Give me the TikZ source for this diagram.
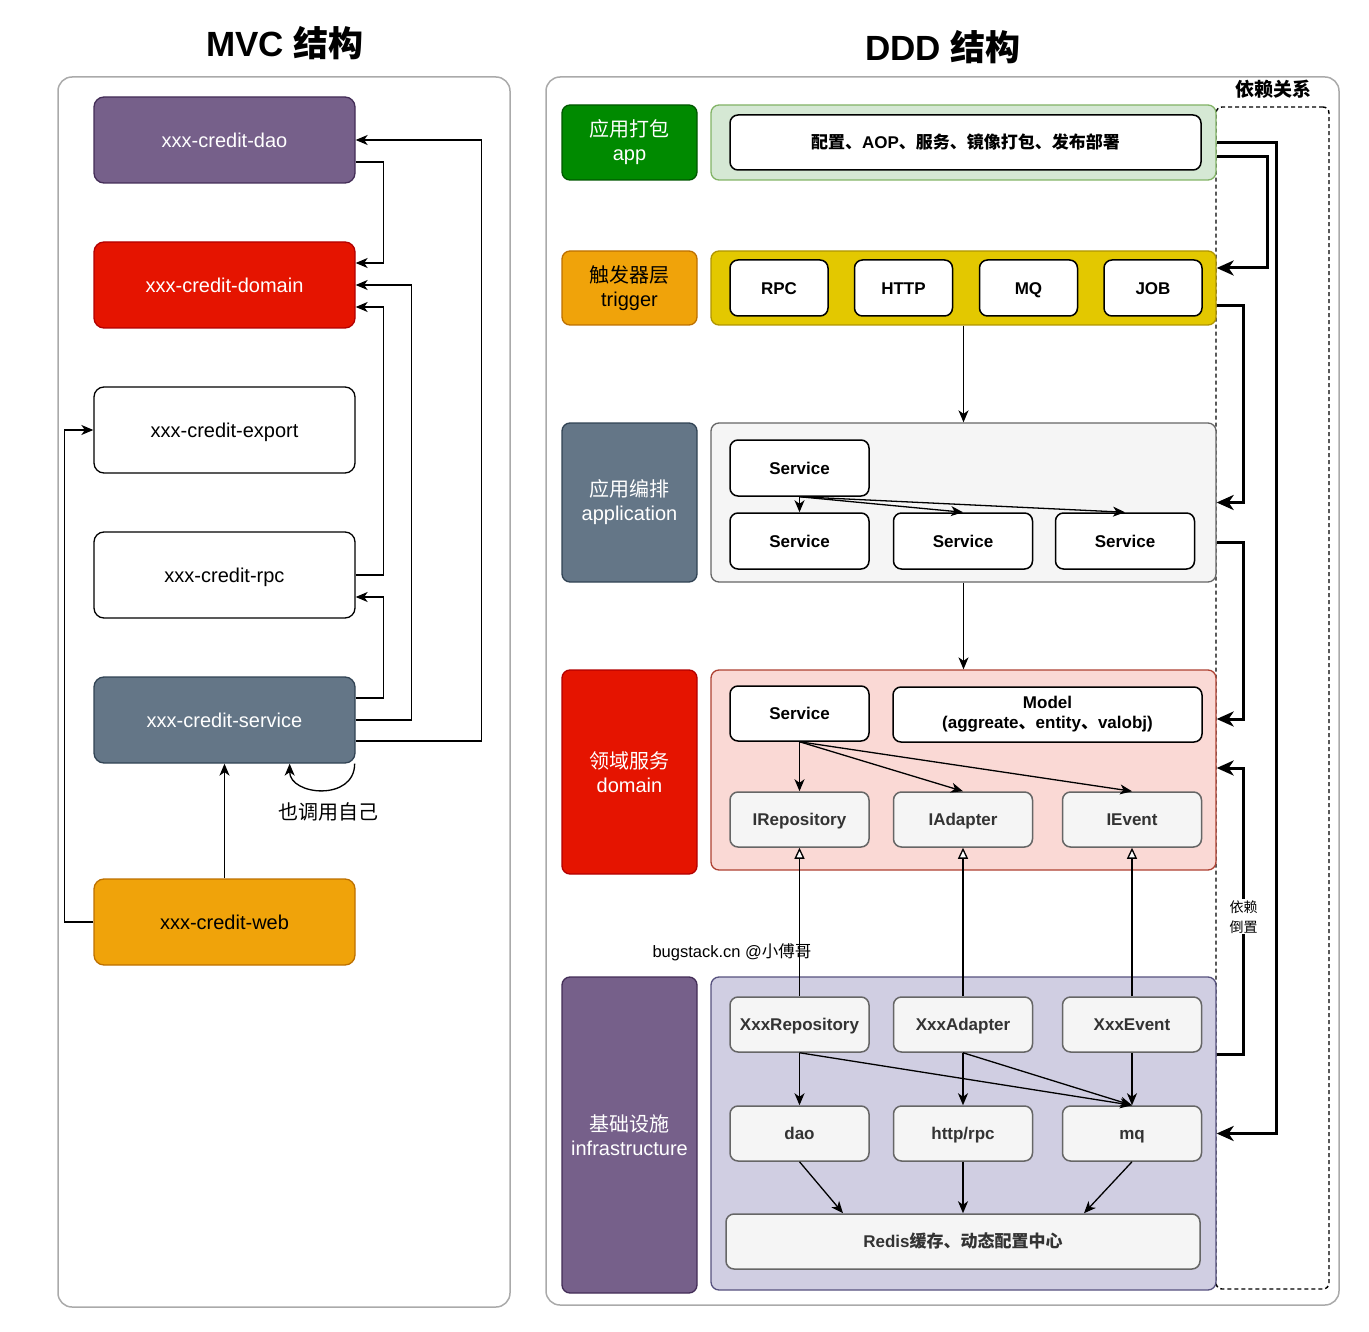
\documentclass[tikz,border=0pt]{standalone}
\usepackage{fontspec}
\setmainfont{Liberation Sans}
\newfontfamily\cjk{Noto Sans CJK SC}
\usetikzlibrary{arrows.meta}

\definecolor{framegray}{HTML}{AAAAAA}
\definecolor{purplefill}{HTML}{76608A}\definecolor{purpleline}{HTML}{432D57}
\definecolor{redfill}{HTML}{E51400}\definecolor{redline}{HTML}{B20000}
\definecolor{slatefill}{HTML}{647687}\definecolor{slateline}{HTML}{314354}
\definecolor{orangefill}{HTML}{F0A30A}\definecolor{orangeline}{HTML}{BD7000}
\definecolor{greenfill}{HTML}{008A00}\definecolor{greenline}{HTML}{005700}
\definecolor{mintfill}{HTML}{D5E8D4}\definecolor{mintline}{HTML}{82B366}
\definecolor{yellowfill}{HTML}{E3C800}\definecolor{yellowline}{HTML}{B09500}
\definecolor{grayfill}{HTML}{F5F5F5}\definecolor{grayline}{HTML}{666666}\definecolor{graytext}{HTML}{333333}
\definecolor{pinkfill}{HTML}{FAD9D5}\definecolor{pinkline}{HTML}{AE4132}
\definecolor{lilacfill}{HTML}{D0CEE2}\definecolor{lilacline}{HTML}{56517E}

\tikzset{
  box/.style={draw, rounded corners=8, inner sep=0, align=center},
  mvcbox/.style={box, rounded corners=10, minimum width=261, minimum height=86, text height=19.3, text depth=5, font=\fontsize{20}{24}\selectfont},
  layer/.style={box, minimum width=135, font=\fontsize{20}{24}\selectfont},
  zone/.style={box, minimum width=505},
  item/.style={box, fill=white, minimum width=139, minimum height=55, line width=1.5, text height=16.2, text depth=4, font=\bfseries\fontsize{17}{20}\selectfont},
  grayitem/.style={item, fill=grayfill, draw=grayline, text=graytext},
  frame/.style={draw=framegray, rounded corners=14, line width=1.5, inner sep=0},
  title/.style={font=\bfseries\fontsize{35}{40}\selectfont},
  dep/.style={->, line width=3, >={Stealth[length=17pt,width=15pt,inset=5pt]}},
  impl/.style={-{Triangle[fill=white,length=11pt,width=10pt]}}
}

\begin{document}
\begin{tikzpicture}[x=1pt,y=-1pt,line width=1.3,>={Stealth[length=12pt,width=10pt,inset=3.5pt]}]
  \useasboundingbox (0,0) rectangle (1369,1332);

  \node[title] (mvctitle) at (285,43) {MVC {\cjk 结构}};
  \node[title] (dddtitle) at (943,47) {DDD {\cjk 结构}};

  \node[frame, minimum width=452, minimum height=1230] (mvcframe) at (284,692) {};
  \node[frame, minimum width=793, minimum height=1228] (dddframe) at (942.5,691) {};

  % MVC
  \node[mvcbox, fill=purplefill, draw=purpleline, text=white] (dao) at (224.5,140) {xxx-credit-dao};
  \node[mvcbox, fill=redfill, draw=redline, text=white] (domain) at (224.5,285) {xxx-credit-domain};
  \node[mvcbox] (export) at (224.5,430) {xxx-credit-export};
  \node[mvcbox] (rpc) at (224.5,575) {xxx-credit-rpc};
  \node[mvcbox, fill=slatefill, draw=slateline, text=white] (service) at (224.5,720) {xxx-credit-service};
  \node[mvcbox, fill=orangefill, draw=orangeline] (web) at (224.5,922) {xxx-credit-web};

  \draw[->] ([yshift=-22]dao.east) -- ++(28,0) |- ([yshift=22]domain.east);
  \draw[->] ([yshift=-21]service.east) -- ++(126,0) |- (dao.east);
  \draw[->] (service.east) -- ++(56,0) |- (domain.east);
  \draw[->] (rpc.east) -- ++(28,0) |- ([yshift=-22]domain.east);
  \draw[->] ([yshift=22]service.east) -- ++(28,0) |- ([yshift=-22]rpc.east);
  \draw[->] (web.north) -- (service.south);
  \draw[->] (web.west) -- ++(-29,0) |- (export.west);
  \draw[->] ([xshift=-1]service.south east) .. controls +(0,38) and +(0,32) .. ([xshift=-66]service.south east);
  \node[font=\cjk\fontsize{20}{24}\selectfont] (selfcall) at (328,812) {也调用自己};

  % DDD
  \node[draw, dash pattern=on 4pt off 3pt, rounded corners=6, line width=1.4, minimum width=113, minimum height=1182, inner sep=0] (deps) at (1272.5,698) {};
  \node[font=\bfseries\cjk\fontsize{19}{22}\selectfont] (depstitle) at (1273,89) {依赖关系};

  \node[layer, fill=greenfill, draw=greenline, text=white, minimum height=75] (applayer) at (629.5,142.5) {{\cjk 应用打包}\\app};
  \node[layer, fill=orangefill, draw=orangeline, minimum height=74] (triglayer) at (629.5,288) {{\cjk 触发器层}\\trigger};
  \node[layer, fill=slatefill, draw=slateline, text=white, minimum height=159] (appslayer) at (629.5,502.5) {{\cjk 应用编排}\\application};
  \node[layer, fill=redfill, draw=redline, text=white, minimum height=204] (domlayer) at (629.5,772) {{\cjk 领域服务}\\domain};
  \node[layer, fill=purplefill, draw=purpleline, text=white, minimum height=316] (infralayer) at (629.5,1135) {{\cjk 基础设施}\\infrastructure};

  \node[zone, fill=mintfill, draw=mintline, minimum height=75] (appzone) at (963.5,142.5) {};
  \node[zone, fill=yellowfill, draw=yellowline, minimum height=74] (trigzone) at (963.5,288) {};
  \node[zone, fill=grayfill, draw=grayline, minimum height=159] (appszone) at (963.5,502.5) {};
  \node[zone, fill=pinkfill, draw=pinkline, minimum height=200] (domzone) at (963.5,770) {};
  \node[zone, fill=lilacfill, draw=lilacline, minimum height=313] (infrazone) at (963.5,1133.5) {};

  \node[item, minimum width=471] (pack) at (965.5,142.5) {{\cjk 配置、}AOP{\cjk 、服务、镜像打包、发布部署}};

  \node[item, minimum width=98, minimum height=56] (trpc) at (779,288) {RPC};
  \node[item, minimum width=98, minimum height=56] (thttp) at (903.5,288) {HTTP};
  \node[item, minimum width=98, minimum height=56] (tmq) at (1028.5,288) {MQ};
  \node[item, minimum width=98, minimum height=56] (tjob) at (1153,288) {JOB};

  \node[item, minimum height=56] (asvc) at (799.5,468) {Service};
  \node[item, minimum height=56] (asvc1) at (799.5,541) {Service};
  \node[item, minimum height=56] (asvc2) at (963,541) {Service};
  \node[item, minimum height=56] (asvc3) at (1125,541) {Service};

  \node[item] (dsvc) at (799.5,713.5) {Service};
  \node[item, minimum width=309, text height=, text depth=] (model) at (1047.5,714.5) {Model\\(aggreate{\cjk 、}entity{\cjk 、}valobj)};
  \node[grayitem] (irepo) at (799.5,819.5) {IRepository};
  \node[grayitem] (iadapt) at (963,819.5) {IAdapter};
  \node[grayitem] (ievent) at (1132,819.5) {IEvent};

  \node[grayitem] (xrepo) at (799.5,1024.5) {XxxRepository};
  \node[grayitem] (xadapt) at (963,1024.5) {XxxAdapter};
  \node[grayitem] (xevent) at (1132,1024.5) {XxxEvent};
  \node[grayitem] (dao2) at (799.5,1133.5) {dao};
  \node[grayitem] (httprpc) at (963,1133.5) {http/rpc};
  \node[grayitem] (mq) at (1132,1133.5) {mq};
  \node[grayitem, minimum width=474] (redis) at (963,1241.5) {Redis{\cjk 缓存、动态配置中心}};

  \node[font=\fontsize{16.5}{19}\selectfont] (watermark) at (732,952) {bugstack.cn @{\cjk 小傅哥}};

  \draw[->] (trigzone.south) -- (appszone.north);
  \draw[->] (appszone.south) -- (domzone.north);

  \draw[->] (asvc.south) -- (asvc1.north);
  \draw[->] (asvc.south) -- (asvc2.north);
  \draw[->] (asvc.south) -- (asvc3.north);

  \draw[->] (dsvc.south) -- (irepo.north);
  \draw[->] (dsvc.south) -- (iadapt.north);
  \draw[->] (dsvc.south) -- (ievent.north);

  \draw[impl] (xrepo.north) -- (irepo.south);
  \draw[impl] (xadapt.north) -- (iadapt.south);
  \draw[impl] (xevent.north) -- (ievent.south);

  \draw[->] (xrepo.south) -- (dao2.north);
  \draw[->] (xrepo.south) -- (mq.north);
  \draw[->] (xadapt.south) -- (httprpc.north);
  \draw[->] (xadapt.south) -- (mq.north);
  \draw[->] (xevent.south) -- (mq.north);
  \draw[->] (dao2.south) -- ([xshift=-120]redis.north);
  \draw[->] (httprpc.south) -- (redis.north);
  \draw[->] (mq.south) -- ([xshift=121]redis.north);

  % dependencies
  \draw[dep] (appzone.east) -- ++(60,0) |- (infrazone.east);
  \draw[dep] ([yshift=-14.5]appzone.east) -- ++(51,0) |- ([yshift=20]trigzone.east);
  \draw[dep] ([yshift=-18]trigzone.east) -- ++(27,0) |- (appszone.east);
  \draw[dep] ([yshift=-39.5]appszone.east) -- ++(27,0) |- ([yshift=51]domzone.east);
  \draw[dep] ([yshift=79.5]infrazone.east) -- ++(27,0) |- node[pos=0.24, fill=white, inner sep=1, align=center, font=\cjk\fontsize{14}{20}\selectfont] (inversion) {依赖\\倒置} ([yshift=2]domzone.east);
\end{tikzpicture}
\end{document}
